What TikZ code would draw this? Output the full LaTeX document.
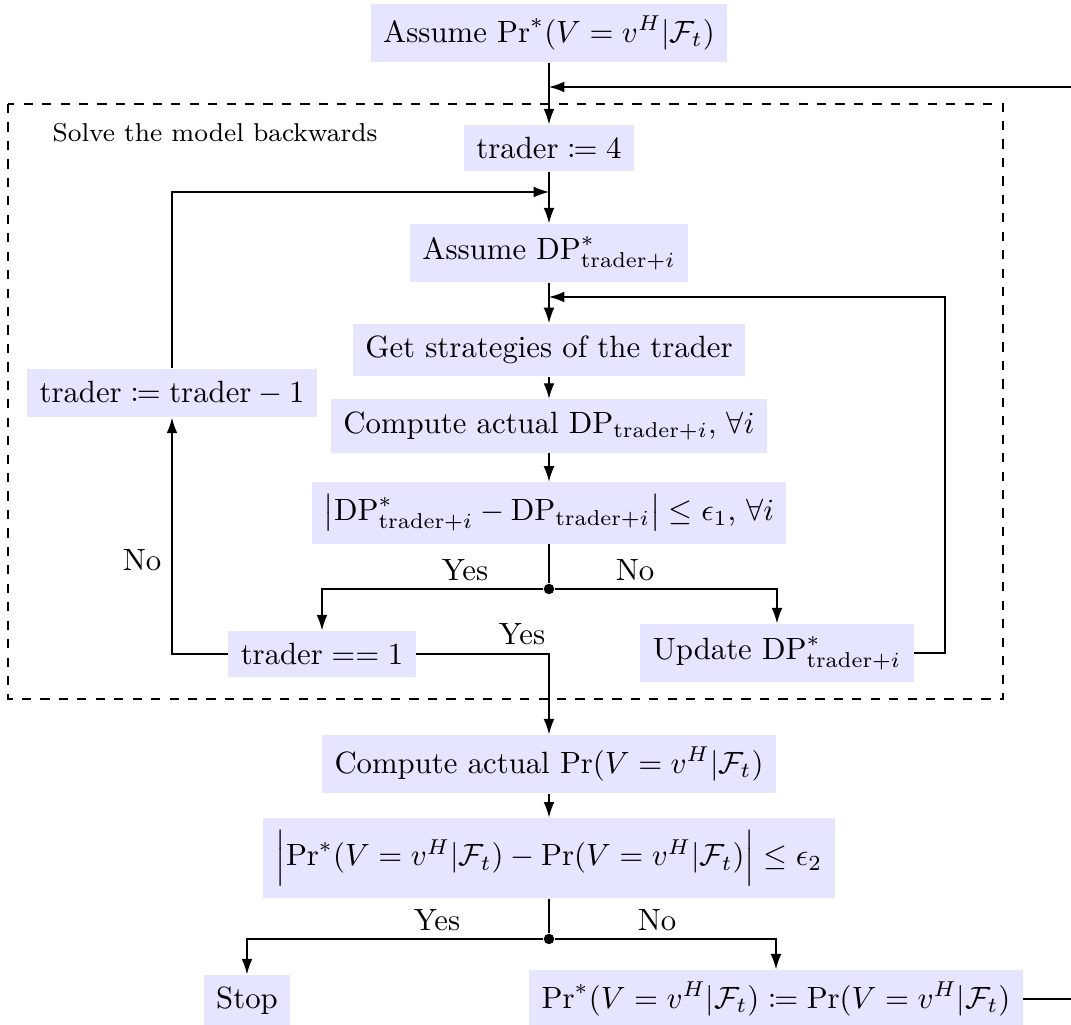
\documentclass[tikz,border=0pt]{standalone}
\usepackage{amsmath,mathtools}
\usetikzlibrary{arrows.meta}
\begin{document}
\begin{tikzpicture}[x=0.01143cm,y=-0.01143cm,
  box/.style={fill=blue!10,inner sep=4pt},
  arr/.style={-{Latex[length=5pt,width=3.5pt]}},
  lbl/.style={inner sep=1pt},
  dot/.style={circle,fill=black,inner sep=0pt,minimum size=3.4pt}]
\useasboundingbox (0,0) rectangle (1071,1025);
\clip (0,0) rectangle (1071,1025);
% dashed frame
\draw[dashed] (8,104) rectangle (1003,699);
\node[anchor=west,font=\fontsize{8.4pt}{10pt}\selectfont,inner sep=0pt] (solve) at (52,133) {Solve the model backwards};
% nodes
\node[box] (A) at (549,33) {Assume $\mathrm{Pr}^*(V=v^H|\mathcal{F}_t)$};
\node[box] (t4) at (549,148) {$\text{trader}\coloneqq 4$};
\node[box] (ADP) at (549,253) {Assume $\mathrm{DP}^*_{\text{trader}+i}$};
\node[box] (GS) at (549,350) {Get strategies of the trader};
\node[box] (CA) at (549,426) {Compute actual $\mathrm{DP}_{\text{trader}+i}$, $\forall i$};
\node[box] (AB) at (549,513) {$\bigl|\mathrm{DP}^*_{\text{trader}+i}-\mathrm{DP}_{\text{trader}+i}\bigr|\le\epsilon_1$, $\forall i$};
\node[box] (tm1) at (172,393) {$\text{trader}\coloneqq\text{trader}-1$};
\node[box] (t1) at (322,654) {$\text{trader}==1$};
\node[box] (UP) at (777,653) {Update $\mathrm{DP}^*_{\text{trader}+i}$};
\node[box] (CP) at (549,764) {Compute actual $\mathrm{Pr}(V=v^H|\mathcal{F}_t)$};
\node[box] (AP) at (549,858) {$\Bigl|\mathrm{Pr}^*(V=v^H|\mathcal{F}_t)-\mathrm{Pr}(V=v^H|\mathcal{F}_t)\Bigr|\le\epsilon_2$};
\node[box] (stop) at (247,1001) {Stop};
\node[box] (PP) at (776,999) {$\mathrm{Pr}^*(V=v^H|\mathcal{F}_t)\coloneqq\mathrm{Pr}(V=v^H|\mathcal{F}_t)$};
% junctions
\coordinate (j1) at (549,87);
\coordinate (j2) at (549,192);
\coordinate (j3) at (549,297);
\coordinate (far) at (1100,999);
\node[dot] (d1) at (549,589) {};
\node[dot] (d2) at (549,939) {};
% connectors
\draw[arr] (A) -- (t4);
\draw[arr] (PP.east) -- (far) |- (j1);
\draw[arr] (t4) -- (ADP);
\draw[arr] (tm1.north) |- (j2);
\draw[arr] (ADP) -- (GS);
\draw[arr] (UP.east) -- (945,653) |- (j3);
\draw[arr] (GS) -- (CA);
\draw[arr] (CA) -- (AB);
\draw (AB) -- (d1);
\draw[arr] (d1) -| (t1.north);
\draw[arr] (d1) -| (UP.north);
\node[lbl] (y1) at (465,570) {Yes};
\node[lbl] (n1) at (635,570) {No};
\draw[arr] (t1.west) -| (tm1.south);
\node[lbl] (n2) at (142,560) {No};
\draw[arr] (t1.east) -| (CP.north);
\node[lbl] (y2) at (522,634) {Yes};
\draw[arr] (CP) -- (AP);
\draw (AP) -- (d2);
\draw[arr] (d2) -| (stop.north);
\draw[arr] (d2) -| (PP.north);
\node[lbl] (y3) at (437,920) {Yes};
\node[lbl] (n3) at (657,920) {No};
\end{tikzpicture}
\end{document}
